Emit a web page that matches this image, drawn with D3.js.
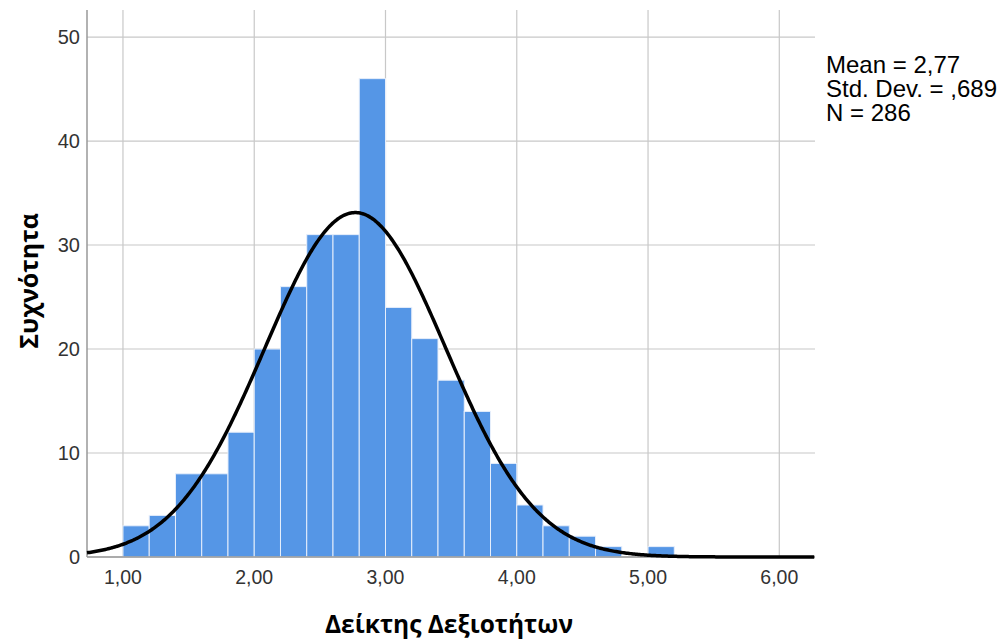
<!DOCTYPE html>
<html>
<head>
<meta charset="utf-8">
<script src="https://cdn.jsdelivr.net/npm/d3@7"></script>
<style>
  body { margin: 0; background: #fff; }
  text { font-family: "Liberation Sans", Arial, sans-serif; }
  .title { font-family: "Open Sans", "DejaVu Sans", sans-serif; font-weight: bold; }
</style>
</head>
<body>
<script>
var width = 1005,
    height = 642;

// histogram bins (lower edge) and counts
var binStarts = [1.0, 1.2, 1.4, 1.6, 1.8, 2.0, 2.2, 2.4, 2.6, 2.8, 3.0, 3.2, 3.4, 3.6, 3.8, 4.0, 4.2, 4.4, 4.6, 4.8, 5.0];
var counts    = [3, 4, 8, 8, 12, 20, 26, 31, 31, 46, 24, 21, 17, 14, 9, 5, 3, 2, 1, 0, 1];
var binWidth = 0.2;

var xTicks = [1, 2, 3, 4, 5, 6];
var yTicks = [0, 10, 20, 30, 40, 50];

var mean = 2.77, sd = 0.689, n = 286;
var statLines = ["Mean = 2,77", "Std. Dev. = ,689", "N = 286"];

var margin = {left: 87, top: 10, right: 190, bottom: 85};

var x = d3.scaleLinear()
    .domain([0.726, 6.272])
    .range([margin.left, width - margin.right]);

var y = d3.scaleLinear()
    .domain([0, 52.6])
    .range([height - margin.bottom, margin.top]);

var svg = d3.select("body").append("svg")
    .attr("width", width)
    .attr("height", height);

var fmt = function(d) { return d3.format(".2f")(d).replace(".", ","); };

// grid lines
svg.append("g").attr("class", "grid-x")
  .selectAll("line")
  .data(xTicks)
  .enter().append("line")
  .attr("x1", d => x(d)).attr("x2", d => x(d))
  .attr("y1", y.range()[1]).attr("y2", y.range()[0])
  .style("stroke", "#c8c8c8")
  .style("stroke-width", 1.2);

svg.append("g").attr("class", "grid-y")
  .selectAll("line")
  .data(yTicks)
  .enter().append("line")
  .attr("x1", x.range()[0]).attr("x2", x.range()[1])
  .attr("y1", d => y(d)).attr("y2", d => y(d))
  .style("stroke", "#c8c8c8")
  .style("stroke-width", 1.2);

// bars
svg.append("g").attr("class", "bars")
  .selectAll("rect")
  .data(binStarts.map((b, i) => ({x0: b, count: counts[i]})).filter(d => d.count > 0))
  .enter().append("rect")
  .attr("x", d => x(d.x0))
  .attr("width", d => x(d.x0 + binWidth) - x(d.x0))
  .attr("y", d => y(d.count))
  .attr("height", d => y(0) - y(d.count))
  .style("fill", "#5596e6")
  .style("stroke", "#e6eefb")
  .style("stroke-width", 1);

// axes lines
svg.append("line")
  .attr("x1", x.range()[0]).attr("x2", x.range()[0])
  .attr("y1", y.range()[1]).attr("y2", y.range()[0])
  .style("stroke", "#999").style("stroke-width", 1.5);
svg.append("line")
  .attr("x1", x.range()[0]).attr("x2", x.range()[1])
  .attr("y1", y(0)).attr("y2", y(0))
  .style("stroke", "#999").style("stroke-width", 1.5);

// normal curve from the shown mean / sd / N
var curvePts = d3.range(x.domain()[0], x.domain()[1] + 0.001, 0.01).map(function(v) {
  var z = (v - mean) / sd;
  return [v, n * binWidth * Math.exp(-0.5 * z * z) / (sd * Math.sqrt(2 * Math.PI))];
});

var line = d3.line()
  .x(d => x(d[0]))
  .y(d => y(d[1]));

svg.append("path")
  .datum(curvePts)
  .attr("d", line)
  .style("fill", "none")
  .style("stroke", "#000")
  .style("stroke-width", 3.5);

// tick labels
svg.append("g").selectAll("text")
  .data(xTicks)
  .enter().append("text")
  .attr("x", d => x(d))
  .attr("y", y(0) + 27)
  .attr("text-anchor", "middle")
  .style("font-size", "19.5px")
  .style("fill", "#333")
  .text(fmt);

svg.append("g").selectAll("text")
  .data(yTicks)
  .enter().append("text")
  .attr("x", x.range()[0] - 7)
  .attr("y", d => y(d))
  .attr("dy", ".36em")
  .attr("text-anchor", "end")
  .style("font-size", "20px")
  .style("fill", "#333")
  .text(d => d);

// axis titles
svg.append("text")
  .attr("class", "title")
  .attr("x", 449)
  .attr("y", 633)
  .attr("text-anchor", "middle")
  .style("font-size", "24.5px")
  .text("Δείκτης Δεξιοτήτων");

svg.append("text")
  .attr("class", "title")
  .attr("transform", "translate(38," + 281 + ") rotate(-90)")
  .attr("text-anchor", "middle")
  .style("font-size", "25px")
  .text("Συχνότητα");

// stats box
svg.append("g").selectAll("text")
  .data(statLines)
  .enter().append("text")
  .attr("x", 826)
  .attr("y", (d, i) => 73 + i * 24)
  .style("font-size", "24px")
  .style("fill", "#000")
  .text(d => d);
</script>
</body>
</html>
